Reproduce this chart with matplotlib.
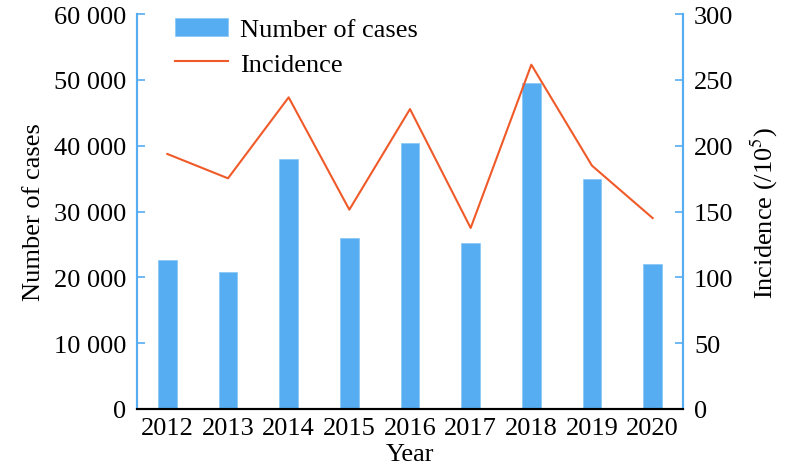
import matplotlib
matplotlib.use("Agg")
import matplotlib.pyplot as plt
from matplotlib.ticker import FuncFormatter

plt.rcParams["font.family"] = ["Liberation Serif", "DejaVu Serif"]
plt.rcParams["mathtext.fontset"] = "stix"

years = ["2012", "2013", "2014", "2015", "2016", "2017", "2018", "2019", "2020"]
cases = [22700, 20800, 38000, 26000, 40400, 25200, 49500, 34900, 22000]
incidence = [193.7, 175.2, 236.7, 151.4, 227.8, 137.5, 261.5, 184.8, 145.0]

BLUE = "#57adf2"
ORANGE = "#f05a28"
FS = 19

fig = plt.figure(figsize=(7.94, 4.77), dpi=100)
ax = fig.add_axes([137 / 794, 1 - 410 / 477, 546 / 794, 395 / 477])
ax2 = ax.twinx()

x = range(len(years))
ax.bar(x, cases, width=0.31, color=BLUE, edgecolor="#8ccaf7", linewidth=0.6,
       label="Number of cases")
ax2.plot(x, incidence, color=ORANGE, lw=1.5, label="Incidence")

ax.set_xlim(-0.5, len(years) - 0.5)
ax.set_ylim(0, 60000)
ax2.set_ylim(0, 300)
ax.set_yticks(range(0, 60001, 10000))
ax2.set_yticks(range(0, 301, 50))
ax.yaxis.set_major_formatter(FuncFormatter(lambda v, p: f"{int(v):,}".replace(",", " ")))
ax.set_xticks(list(x))
ax.set_xticklabels(years)

for a in (ax, ax2):
    a.spines["top"].set_visible(False)
    a.spines["left"].set_color(BLUE)
    a.spines["right"].set_color(BLUE)
    a.spines["left"].set_linewidth(1.5)
    a.spines["right"].set_linewidth(1.5)
    a.spines["bottom"].set_linewidth(1.5)
    a.tick_params(labelsize=FS, colors="black")

ax.tick_params(axis="y", direction="in", length=5.5, width=1.2, color=BLUE, pad=8)
ax2.tick_params(axis="y", direction="in", length=5.5, width=1.2, color=BLUE, pad=8)
ax.tick_params(axis="x", length=0, pad=6)

ax.set_xlabel("Year", fontsize=FS, labelpad=3)
ax.set_ylabel("Number of cases", fontsize=FS, labelpad=6)
ax2.set_ylabel("Incidence (/10$^5$)", fontsize=FS, labelpad=11)

h1, l1 = ax.get_legend_handles_labels()
h2, l2 = ax2.get_legend_handles_labels()
ax2.legend(h1 + h2, l1 + l2, loc="upper left", bbox_to_anchor=(0.027, 1.05),
           frameon=False, fontsize=FS, handlelength=2.0, handletextpad=0.45,
           labelspacing=0.4)

fig.savefig("out.png", dpi=100)
